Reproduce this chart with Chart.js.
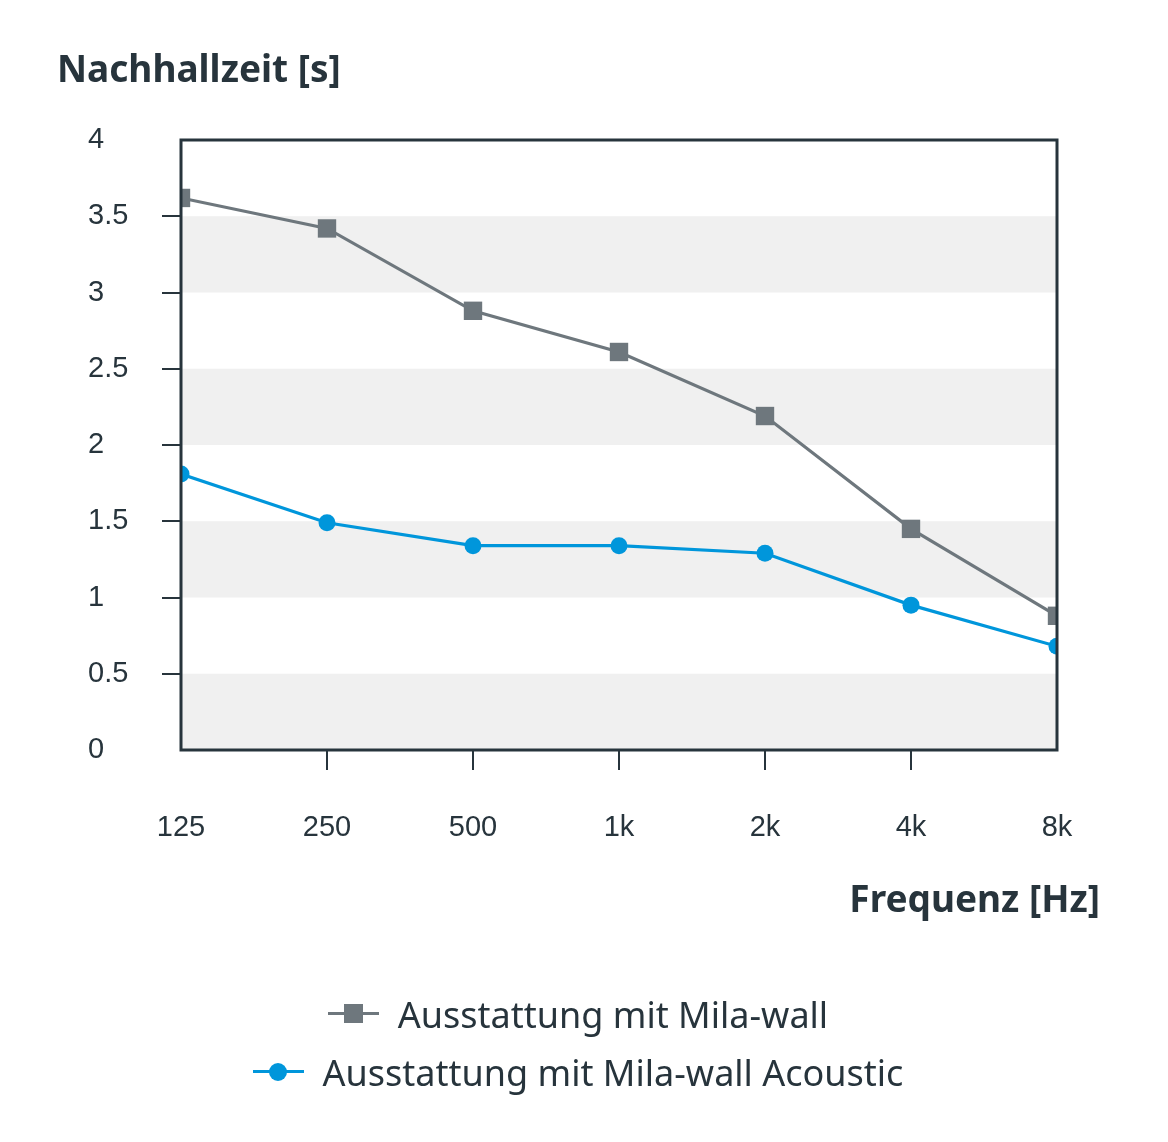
<!DOCTYPE html>
<html>
<head>
<meta charset="utf-8">
<script src="https://cdn.jsdelivr.net/npm/chart.js@4/dist/chart.umd.min.js"></script>
<style>
  html, body { margin: 0; padding: 0; background: #fff; }
  #wrap { position: relative; width: 1168px; height: 1142px; }
  #wrap canvas { position: absolute; left: 0; top: 0; }
  .title { position: absolute; font-family: "Noto Sans", sans-serif; font-weight: bold; font-size: 37px; color: #27343c; white-space: nowrap; }
  #ytitle { left: 57px; top: 42px; }
  #xtitle { right: 68px; top: 872px; }
  #legend { position: absolute; left: 0; width: 1156px; top: 985px; display: flex; flex-direction: column; align-items: center;
            font-family: "Noto Sans", sans-serif; font-size: 36px; color: #27343c; }
  .item { display: flex; align-items: center; height: 58px; white-space: nowrap; }
  .sym { position: relative; width: 51px; height: 20px; margin-right: 19px; }
  .sym .ln { position: absolute; left: 0; right: 0; top: 8px; height: 3px; }
  .sym .mk { position: absolute; }
</style>
</head>
<body>
<div id="wrap">
  <canvas id="chart"></canvas>
  <div class="title" id="ytitle">Nachhallzeit [s]</div>
  <div class="title" id="xtitle">Frequenz [Hz]</div>
  <div id="legend"></div>
</div>
<script>
const frequencies = ["125", "250", "500", "1k", "2k", "4k", "8k"];
const milaWall = [3.62, 3.42, 2.88, 2.61, 2.19, 1.45, 0.88];
const milaWallAcoustic = [1.81, 1.49, 1.34, 1.34, 1.29, 0.95, 0.68];
const bands = [[0, 0.5], [1, 1.5], [2, 2.5], [3, 3.5]];

const grey = '#6e777d';
const blue = '#0096db';
const dark = '#27343c';

// grey bands behind the lines + frame round the plot
const bandPlugin = {
    id: 'bands',
    beforeDatasetsDraw(chart) {
        const {ctx, chartArea, scales} = chart;
        ctx.save();
        ctx.fillStyle = '#f0f0f0';
        bands.forEach(([a, b]) => {
            const y1 = scales.y.getPixelForValue(b);
            const y2 = scales.y.getPixelForValue(a);
            ctx.fillRect(chartArea.left, y1, chartArea.right - chartArea.left, y2 - y1);
        });
        ctx.restore();
    },
    afterDatasetsDraw(chart) {
        const {ctx, chartArea} = chart;
        ctx.save();
        ctx.strokeStyle = dark;
        ctx.lineWidth = 3;
        ctx.strokeRect(chartArea.left, chartArea.top, chartArea.right - chartArea.left, chartArea.bottom - chartArea.top);
        ctx.restore();
    }
};

// no tick marks at the two ends of an axis
const innerTicks = (c) => (c.index === 0 || c.index === c.scale.ticks.length - 1) ? 'rgba(0,0,0,0)' : dark;

const canvas = document.getElementById('chart');
canvas.width = 1168;
canvas.height = 1142;

new Chart(canvas, {
    type: 'line',
    data: {
        labels: frequencies,
        datasets: [
            {
                label: 'Ausstattung mit Mila-wall',
                data: milaWall,
                borderColor: grey,
                backgroundColor: grey,
                borderWidth: 3.2,
                pointStyle: 'rect',
                pointRadius: 13,
                pointBorderWidth: 0,
                clip: 0
            },
            {
                label: 'Ausstattung mit Mila-wall Acoustic',
                data: milaWallAcoustic,
                borderColor: blue,
                backgroundColor: blue,
                borderWidth: 3.2,
                pointStyle: 'circle',
                pointRadius: 8.5,
                pointBorderWidth: 0,
                clip: 0
            }
        ]
    },
    options: {
        responsive: false,
        animation: false,
        layout: { padding: { left: 88, right: 111, top: 140, bottom: 292 } },
        plugins: { legend: { display: false }, tooltip: { enabled: false } },
        scales: {
            x: {
                offset: false,
                border: { display: false },
                grid: { drawOnChartArea: false, drawTicks: true, tickLength: 20, color: innerTicks, lineWidth: 2 },
                ticks: { padding: 41, color: dark, font: { family: 'Liberation Sans', size: 29 }, maxRotation: 0 },
                afterFit(scale) { scale.height = 100; }
            },
            y: {
                min: 0,
                max: 4,
                border: { display: false },
                grid: { drawOnChartArea: false, drawTicks: true, tickLength: 19, color: innerTicks, lineWidth: 2 },
                ticks: { stepSize: 0.5, crossAlign: 'far', color: dark, font: { family: 'Liberation Sans', size: 29 },
                         callback: (v) => String(v) },
                afterFit(scale) { scale.width = 93; }
            }
        }
    },
    plugins: [bandPlugin]
});

// legend: line with marker, then text
const legend = document.getElementById('legend');
[
    {text: 'Ausstattung mit Mila-wall', color: grey, shape: 'square'},
    {text: 'Ausstattung mit Mila-wall Acoustic', color: blue, shape: 'circle'}
].forEach(it => {
    const row = document.createElement('div');
    row.className = 'item';
    const sz = it.shape === 'square' ? 19 : 18;
    row.innerHTML = '<div class="sym"><div class="ln" style="background:' + it.color + '"></div>' +
        '<div class="mk" style="background:' + it.color + ';width:' + sz + 'px;height:' + sz + 'px;left:' + (25.5 - sz / 2) + 'px;top:' + (9.5 - sz / 2) + 'px;' +
        (it.shape === 'circle' ? 'border-radius:50%;' : '') + '"></div></div><span>' + it.text + '</span>';
    legend.appendChild(row);
});
</script>
</body>
</html>
